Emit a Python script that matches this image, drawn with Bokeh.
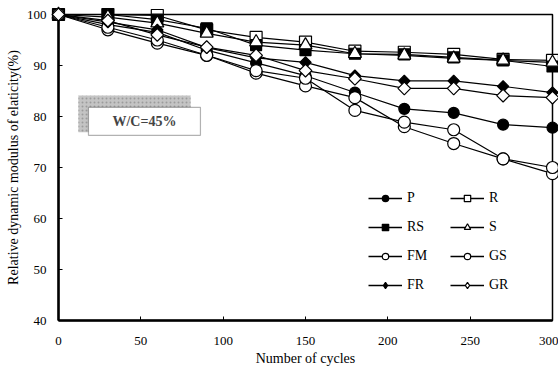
import math
from bokeh.plotting import figure
from bokeh.models import Legend, LegendItem, BoxAnnotation, Label, FixedTicker
from bokeh.embed import file_html
from bokeh.resources import INLINE

cycles = [0, 30, 60, 90, 120, 150, 180, 210, 240, 270, 300]
R  = [100, 100.0, 99.8, 97.0, 95.5, 94.6, 92.8, 92.6, 92.2, 91.2, 91.0]
RS = [100, 100.0, 99.0, 97.3, 94.0, 93.0, 92.3, 92.2, 91.6, 91.0, 89.8]
S  = [100, 99.5, 98.3, 96.3, 94.6, 94.0, 92.3, 92.0, 91.4, 91.0, 90.6]
P  = [100, 98.0, 96.5, 93.0, 90.5, 88.0, 84.7, 81.5, 80.7, 78.4, 77.8]
FM = [100, 97.0, 94.4, 92.0, 88.5, 86.0, 83.7, 78.0, 74.7, 71.7, 68.8]
GS = [100, 97.5, 95.0, 92.0, 89.0, 87.5, 81.2, 78.9, 77.4, 71.7, 70.0]
FR = [100, 98.5, 97.0, 93.5, 91.5, 90.6, 88.0, 87.0, 87.0, 85.9, 84.7]
GR = [100, 98.8, 96.0, 93.6, 92.0, 89.0, 87.4, 85.5, 85.5, 84.1, 83.7]

x_ticks = [0, 50, 100, 150, 200, 250, 300]
y_ticks = [40, 50, 60, 70, 80, 90, 100]

# name, values, plot marker, fill, plot size, angle, legend marker
series = [
    ("P", P, "circle", "black", 11, 0, "circle"),
    ("R", R, "square", "white", 12, 0, "square"),
    ("RS", RS, "square", "black", 11, 0, "square"),
    ("S", S, "triangle", "white", 13, 0, "triangle"),
    ("FM", FM, "circle", "white", 12, 0, "circle"),
    ("GS", GS, "circle", "white", 12, 0, "circle"),
    ("FR", FR, "square", "black", 8, math.pi / 4, "diamond"),
    ("GR", GR, "square", "white", 9, math.pi / 4, "diamond"),
]

FONT = "Liberation Serif"
NAN = float("nan")

p = figure(width=558, height=371, x_range=(0, 300), y_range=(40, 100),
           output_backend="svg", toolbar_location=None,
           min_border_left=58, min_border_right=6, min_border_top=14, min_border_bottom=51)
p.grid.visible = False
p.background_fill_color = "white"
p.outline_line_color = "black"
p.outline_line_width = 1.5

for ax in (p.xaxis[0], p.yaxis[0]):
    ax.axis_line_width = 2.5
    ax.axis_line_color = "black"
    ax.major_tick_in = 4
    ax.major_tick_out = 0
    ax.major_tick_line_color = "black"
    ax.minor_tick_line_color = None
    ax.major_label_text_font = FONT
    ax.major_label_text_font_size = "13px"
    ax.major_label_text_color = "black"
    ax.axis_label_text_font = FONT
    ax.axis_label_text_font_size = "14px"
    ax.axis_label_text_font_style = "normal"
    ax.axis_label_text_color = "black"

p.xaxis.ticker = FixedTicker(ticks=x_ticks)
p.yaxis.ticker = FixedTicker(ticks=y_ticks)
p.xaxis.major_label_standoff = 16
p.yaxis.major_label_standoff = 12
p.xaxis.axis_label = "Number of cycles"
p.yaxis.axis_label = "Relative dynamic modulus of elaticity(%)"
p.xaxis.axis_label_standoff = 3
p.yaxis.axis_label_standoff = 3

# W/C annotation box with shaded shadow
p.add_layout(BoxAnnotation(left=12.1, right=80.2, top=84.1, bottom=76.9,
                           fill_color="#c4c4c4", fill_alpha=1.0, line_color=None,
                           hatch_pattern=".", hatch_color="#8a8a8a", hatch_alpha=0.7,
                           hatch_scale=4))
p.add_layout(BoxAnnotation(left=18.2, right=86.2, top=81.8, bottom=76.3,
                           fill_color="white", fill_alpha=1.0, line_color="black", line_width=1.2))
p.add_layout(Label(x=52.2, y=79.0, text="W/C=45%", text_font=FONT, text_font_size="14px",
                   text_font_style="bold", text_align="center", text_baseline="middle"))

items = {}
for name, ys, marker, fill, size, ang, lmarker in series:
    p.line(cycles, ys, line_color="black", line_width=1.2)
    sc = p.scatter(cycles, ys, marker=marker, size=size, angle=ang,
                   fill_color=fill, line_color="black", line_width=1.2)
    sc.level = "overlay"
    # legend-only glyphs (no visible data)
    lln = p.line([NAN], [NAN], line_color="black", line_width=1.4)
    lsc = p.scatter([NAN], [NAN], marker=lmarker,
                    fill_color=fill, line_color="black", line_width=1.2)
    items[name] = [lln, lsc]

leg1 = Legend(items=[LegendItem(label=n, renderers=items[n]) for n in ["P", "RS", "FM", "FR"]],
              location=(310, 27))
leg2 = Legend(items=[LegendItem(label=n, renderers=items[n]) for n in ["R", "S", "GS", "GR"]],
              location=(392, 27))
for lg in (leg1, leg2):
    lg.background_fill_alpha = 0
    lg.border_line_color = None
    lg.label_text_font = FONT
    lg.label_text_font_size = "14px"
    lg.label_text_color = "black"
    lg.label_height = 16
    lg.glyph_width = 34
    lg.glyph_height = 16
    lg.label_standoff = 5
    lg.spacing = 13
    lg.padding = 4
    lg.margin = 0
    p.add_layout(lg, "center")

open("out.html", "w").write(file_html(p, INLINE))
